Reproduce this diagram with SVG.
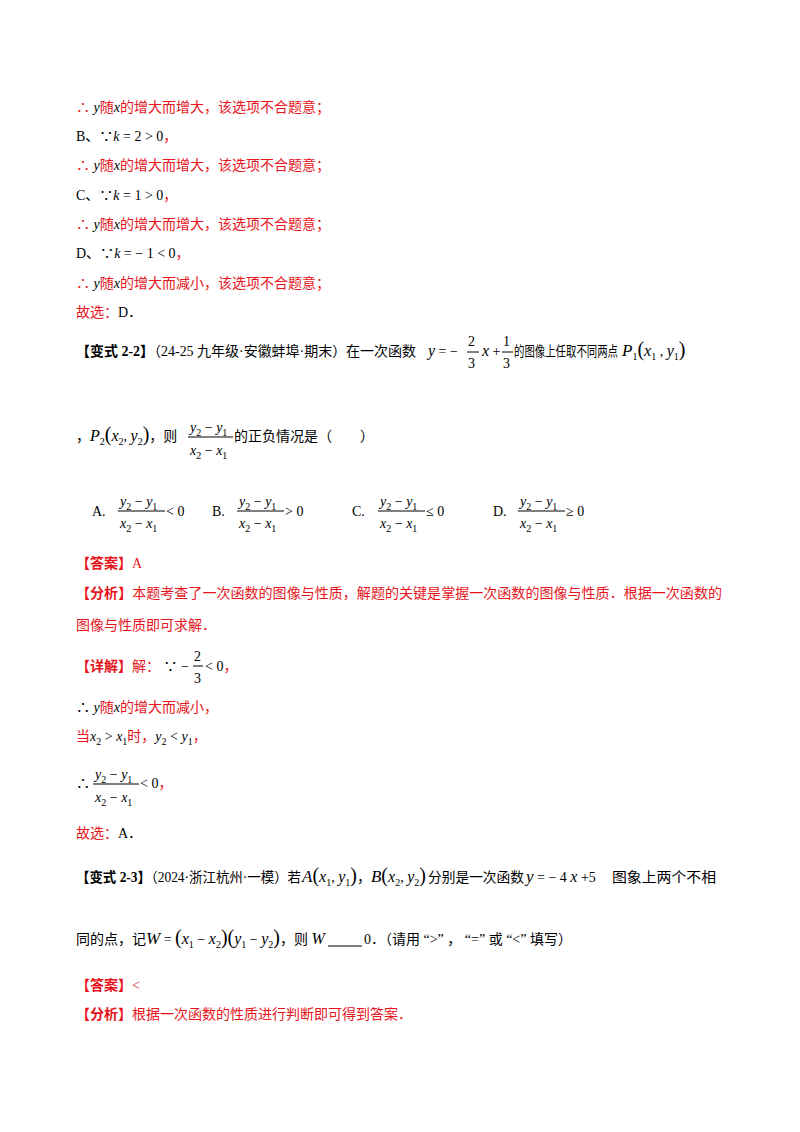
<svg xmlns="http://www.w3.org/2000/svg" width="800" height="1132" viewBox="0 0 800 1132">
<style>
text{font-family:"Liberation Serif","Noto Sans CJK SC",serif;font-size:14px;fill:#000}
.r{fill:#e8141b}
.i{font-style:italic}
.s{font-size:10px}
.b{font-weight:bold}
.n{font-style:normal}
line{stroke:#000;stroke-width:1}
</style>
<rect width="800" height="1132" fill="#fff"/>
<g id="part1">
<text x="76" y="112" class="r">∴ <tspan class="i" fill="#000">y</tspan>随<tspan class="i" fill="#000">x</tspan>的增大而增大，该选项不合题意；</text>
<text x="76" y="141">B、∵<tspan class="i">k</tspan> = 2 &gt; 0<tspan class="r">，</tspan></text>
<text x="76" y="170" class="r">∴ <tspan class="i" fill="#000">y</tspan>随<tspan class="i" fill="#000">x</tspan>的增大而增大，该选项不合题意；</text>
<text x="76" y="200">C、∵<tspan class="i">k</tspan> = 1 &gt; 0<tspan class="r">，</tspan></text>
<text x="76" y="229" class="r">∴ <tspan class="i" fill="#000">y</tspan>随<tspan class="i" fill="#000">x</tspan>的增大而增大，该选项不合题意；</text>
<text x="76" y="258">D、∵<tspan class="i">k</tspan> = − 1 &lt; 0<tspan class="r">，</tspan></text>
<text x="76" y="288" class="r">∴ <tspan class="i" fill="#000">y</tspan>随<tspan class="i" fill="#000">x</tspan>的增大而减小，该选项不合题意；</text>
<text x="76" y="317" class="r">故选：<tspan fill="#000">D．</tspan></text>
</g>
<g id="q22">
<text x="76" y="356" textLength="340" lengthAdjust="spacingAndGlyphs"><tspan class="b">【变式 2-2】</tspan>（24-25 九年级·安徽蚌埠·期末）在一次函数</text>
<text x="428" y="356"><tspan class="i" font-size="16">y</tspan> = −</text>
<text x="468" y="346" font-size="16">2</text><line x1="467" y1="352" x2="479" y2="352"/><text x="468" y="368" font-size="16">3</text>
<text x="482" y="356"><tspan class="i" font-size="16">x</tspan> +</text>
<text x="503" y="346" font-size="16">1</text><line x1="502" y1="352" x2="513" y2="352"/><text x="503" y="368" font-size="16">3</text>
<text x="514" y="356" textLength="104" lengthAdjust="spacingAndGlyphs">的图像上任取不同两点</text>
<text x="622" y="356"><tspan class="i" font-size="17">P</tspan><tspan class="s" dy="4">1</tspan><tspan dy="-4" font-size="20">(</tspan><tspan class="i" font-size="16">x</tspan><tspan class="s" dy="4">1</tspan><tspan dy="-4"> , </tspan><tspan class="i" font-size="16">y</tspan><tspan class="s" dy="4">1</tspan><tspan dy="-4" font-size="20">)</tspan></text>
<text x="76" y="441">，<tspan class="i" font-size="16">P</tspan><tspan class="s" dy="4">2</tspan><tspan dy="-4" font-size="20">(</tspan><tspan class="i" font-size="16">x</tspan><tspan class="s" dy="4">2</tspan><tspan dy="-4">, </tspan><tspan class="i" font-size="16">y</tspan><tspan class="s" dy="4">2</tspan><tspan dy="-4" font-size="20">)</tspan>，则</text>
<text x="190" y="432" class="i">y<tspan class="s n" dy="4">2</tspan><tspan dy="-4" class="n"> − </tspan>y<tspan class="s n" dy="4">1</tspan></text>
<line x1="188" y1="437" x2="233" y2="437"/>
<text x="190" y="455" class="i">x<tspan class="s n" dy="4">2</tspan><tspan dy="-4" class="n"> − </tspan>x<tspan class="s n" dy="4">1</tspan></text>
<text x="234" y="441">的正负情况是（　　）</text>
</g>
<g id="options">
<text x="92" y="516">A.</text>
<text x="120" y="506" class="i">y<tspan class="s n" dy="4">2</tspan><tspan dy="-4" class="n"> − </tspan>y<tspan class="s n" dy="4">1</tspan></text>
<line x1="118" y1="511" x2="165" y2="511"/>
<text x="120" y="528" class="i">x<tspan class="s n" dy="4">2</tspan><tspan dy="-4" class="n"> − </tspan>x<tspan class="s n" dy="4">1</tspan></text>
<text x="166" y="516">&lt; 0</text>
<text x="212" y="516">B.</text>
<text x="239" y="506" class="i">y<tspan class="s n" dy="4">2</tspan><tspan dy="-4" class="n"> − </tspan>y<tspan class="s n" dy="4">1</tspan></text>
<line x1="237" y1="511" x2="284" y2="511"/>
<text x="285" y="516">&gt; 0</text>
<text x="239" y="528" class="i">x<tspan class="s n" dy="4">2</tspan><tspan dy="-4" class="n"> − </tspan>x<tspan class="s n" dy="4">1</tspan></text>
<text x="352" y="516">C.</text>
<text x="380" y="506" class="i">y<tspan class="s n" dy="4">2</tspan><tspan dy="-4" class="n"> − </tspan>y<tspan class="s n" dy="4">1</tspan></text>
<line x1="378" y1="511" x2="425" y2="511"/>
<text x="380" y="528" class="i">x<tspan class="s n" dy="4">2</tspan><tspan dy="-4" class="n"> − </tspan>x<tspan class="s n" dy="4">1</tspan></text>
<text x="426" y="516">≤ 0</text>
<text x="493" y="516">D.</text>
<text x="520" y="506" class="i">y<tspan class="s n" dy="4">2</tspan><tspan dy="-4" class="n"> − </tspan>y<tspan class="s n" dy="4">1</tspan></text>
<line x1="518" y1="511" x2="565" y2="511"/>
<text x="520" y="528" class="i">x<tspan class="s n" dy="4">2</tspan><tspan dy="-4" class="n"> − </tspan>x<tspan class="s n" dy="4">1</tspan></text>
<text x="566" y="516">≥ 0</text>
</g>
<g id="sol22">
<text x="76" y="568" class="r"><tspan class="b">【答案】</tspan>A</text>
<text x="76" y="598" class="r" textLength="646" lengthAdjust="spacingAndGlyphs"><tspan class="b">【分析】</tspan>本题考查了一次函数的图像与性质，解题的关键是掌握一次函数的图像与性质．根据一次函数的</text>
<text x="76" y="630" class="r">图像与性质即可求解．</text>
<text x="76" y="671" class="r"><tspan class="b">【详解】</tspan>解：<tspan fill="#000"> ∵  −</tspan></text>
<text x="194" y="661">2</text><line x1="193" y1="666" x2="203" y2="666"/><text x="194" y="683">3</text>
<text x="205" y="671">&lt; 0<tspan class="r">，</tspan></text>
<text x="76" y="712">∴  <tspan class="i">y</tspan><tspan class="r">随</tspan><tspan class="i">x</tspan><tspan class="r">的增大而减小，</tspan></text>
<text x="76" y="741"><tspan class="r">当</tspan><tspan class="i">x</tspan><tspan class="s" dy="4">2</tspan><tspan dy="-4"> &gt; </tspan><tspan class="i">x</tspan><tspan class="s" dy="4">1</tspan><tspan dy="-4" class="r">时，</tspan><tspan class="i">y</tspan><tspan class="s" dy="4">2</tspan><tspan dy="-4"> &lt; </tspan><tspan class="i">y</tspan><tspan class="s" dy="4">1</tspan><tspan dy="-4" class="r">，</tspan></text>
<text x="76" y="788">∴</text>
<text x="95" y="779" class="i">y<tspan class="s n" dy="4">2</tspan><tspan dy="-4" class="n"> − </tspan>y<tspan class="s n" dy="4">1</tspan></text>
<line x1="93" y1="784" x2="139" y2="784"/>
<text x="95" y="802" class="i">x<tspan class="s n" dy="4">2</tspan><tspan dy="-4" class="n"> − </tspan>x<tspan class="s n" dy="4">1</tspan></text>
<text x="140" y="788">&lt; 0<tspan class="r">，</tspan></text>
<text x="76" y="838" class="r">故选：<tspan fill="#000">A．</tspan></text>
</g>
<g id="q23">
<text x="76" y="882" textLength="225" lengthAdjust="spacingAndGlyphs"><tspan class="b">【变式 2-3】</tspan>（2024·浙江杭州·一模）若</text>
<text x="302" y="882"><tspan class="i" font-size="17">A</tspan><tspan font-size="20">(</tspan><tspan class="i" font-size="16">x</tspan><tspan class="s" dy="4">1</tspan><tspan dy="-4">, </tspan><tspan class="i" font-size="16">y</tspan><tspan class="s" dy="4">1</tspan><tspan dy="-4" font-size="20">)</tspan>，<tspan class="i" font-size="17">B</tspan><tspan font-size="20">(</tspan><tspan class="i" font-size="16">x</tspan><tspan class="s" dy="4">2</tspan><tspan dy="-4">, </tspan><tspan class="i" font-size="16">y</tspan><tspan class="s" dy="4">2</tspan><tspan dy="-4" font-size="20">)</tspan></text>
<text x="428" y="882" textLength="96" lengthAdjust="spacingAndGlyphs">分别是一次函数</text>
<text x="526" y="882"><tspan class="i" font-size="17">y</tspan> = − 4 <tspan class="i" font-size="16">x</tspan> +5</text>
<text x="612" y="882" textLength="104" lengthAdjust="spacingAndGlyphs">图象上两个不相</text>
<text x="76" y="944">同的点，记<tspan class="i" font-size="17">W</tspan> = <tspan font-size="20">(</tspan><tspan class="i" font-size="16">x</tspan><tspan class="s" dy="4">1</tspan><tspan dy="-4"> − </tspan><tspan class="i" font-size="16">x</tspan><tspan class="s" dy="4">2</tspan><tspan dy="-4" font-size="20">)(</tspan><tspan class="i" font-size="16">y</tspan><tspan class="s" dy="4">1</tspan><tspan dy="-4"> − </tspan><tspan class="i" font-size="16">y</tspan><tspan class="s" dy="4">2</tspan><tspan dy="-4" font-size="20">)</tspan>，则 <tspan class="i" font-size="16">W</tspan></text>
<line x1="328" y1="946" x2="362" y2="946" stroke-width="1.5"/>
<text x="364" y="944">0．（请用 “&gt;” ， “=” 或 “&lt;” 填写）</text>
</g>
<g id="sol23">
<text x="76" y="990" class="r"><tspan class="b">【答案】</tspan>&lt;</text>
<text x="76" y="1019" class="r"><tspan class="b">【分析】</tspan>根据一次函数的性质进行判断即可得到答案．</text>
</g>
</svg>
